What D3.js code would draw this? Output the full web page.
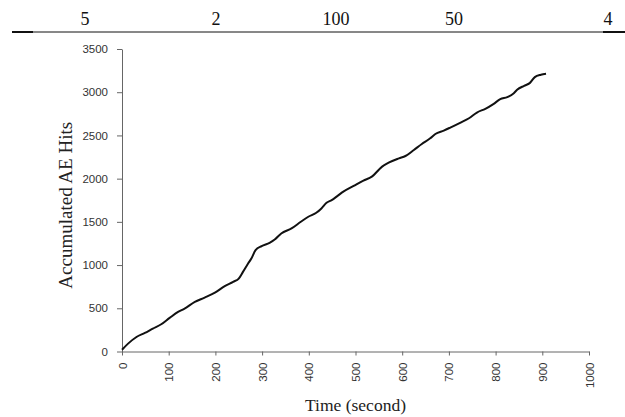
<!DOCTYPE html>
<html>
<head>
<meta charset="utf-8">
<script src="https://cdn.jsdelivr.net/npm/d3@7"></script>
<style>
  body { margin: 0; background: #fff; }
  svg { display: block; }
  .tick text { font-family: "Liberation Sans", Arial, sans-serif; font-size: 11.5px; fill: #333; }
  .axis path, .axis line { stroke: #666; }
</style>
</head>
<body>
<svg id="chart" width="625" height="417"></svg>
<script>
// table row shown above the figure
const headerValues = ["5", "2", "100", "50", "4"];
const headerX = [85, 216, 336, 454, 608];

// Accumulated AE hits over time
const times = [0, 13, 31, 49, 66, 84, 102, 120, 134, 156, 177, 199, 220, 238, 250,
  259, 270, 277, 286, 299, 316, 327, 341, 363, 383, 399, 416, 427, 438, 449, 461,
  474, 496, 517, 535, 557, 571, 593, 607, 625, 642, 660, 671, 689, 703, 725, 743,
  760, 778, 796, 810, 825, 839, 846, 861, 873, 884, 897, 908];
const hits = [20, 91, 168, 215, 265, 315, 389, 458, 497, 574, 624, 682, 756, 806, 844,
  921, 1018, 1076, 1172, 1219, 1258, 1296, 1366, 1424, 1501, 1559, 1605, 1655, 1721, 1752, 1798,
  1849, 1915, 1977, 2023, 2139, 2185, 2235, 2262, 2332, 2401, 2467, 2517, 2556, 2591, 2649, 2699,
  2765, 2808, 2866, 2920, 2943, 2989, 3028, 3074, 3105, 3175, 3202, 3213];

const xTicks = [0, 100, 200, 300, 400, 500, 600, 700, 800, 900, 1000];
const yTicks = [0, 500, 1000, 1500, 2000, 2500, 3000, 3500];

const width = 625;
const height = 417;
const marginTop = 49;
const marginRight = 36;
const marginBottom = 65.5;
const marginLeft = 122;

const svg = d3.select("#chart");

// header row with its rule
svg.selectAll("text.head")
  .data(headerValues)
  .join("text")
  .attr("class", "head")
  .attr("x", (d, i) => headerX[i])
  .attr("y", 25)
  .attr("text-anchor", "middle")
  .style("font-family", "'Liberation Serif', 'Times New Roman', serif")
  .style("font-size", "18px")
  .attr("fill", "#111")
  .text(d => d);

svg.append("line").attr("x1", 12).attr("x2", 625).attr("y1", 32).attr("y2", 32)
  .attr("stroke", "#111").attr("stroke-width", 1);
svg.append("line").attr("x1", 12).attr("x2", 33).attr("y1", 32).attr("y2", 32)
  .attr("stroke", "#111").attr("stroke-width", 2);
svg.append("line").attr("x1", 603).attr("x2", 625).attr("y1", 32).attr("y2", 32)
  .attr("stroke", "#111").attr("stroke-width", 2);

const xScale = d3.scaleLinear()
  .domain([0, 1000])
  .range([marginLeft, width - marginRight]);

const yScale = d3.scaleLinear()
  .domain([0, 3500])
  .range([height - marginBottom, marginTop]);

// y axis
svg.append("g")
  .attr("class", "axis")
  .attr("transform", `translate(${marginLeft},0)`)
  .call(d3.axisLeft(yScale).tickValues(yTicks).tickFormat(d3.format("d"))
    .tickSize(5).tickPadding(9).tickSizeOuter(0));

// x axis
const xAxis = svg.append("g")
  .attr("class", "axis")
  .attr("transform", `translate(0,${height - marginBottom})`)
  .call(d3.axisBottom(xScale).tickValues(xTicks).tickFormat(d3.format("d"))
    .tickSize(4).tickSizeOuter(0));

xAxis.selectAll(".tick text")
  .attr("transform", "rotate(-90)")
  .attr("x", -11)
  .attr("y", 0)
  .attr("dy", "0.35em")
  .attr("text-anchor", "end");

// the curve
const points = times.map((t, i) => ({ time: t, value: hits[i] }));
const line = d3.line()
  .x(p => xScale(p.time))
  .y(p => yScale(p.value))
  .curve(d3.curveMonotoneX);

svg.append("path")
  .datum(points)
  .attr("fill", "none")
  .attr("stroke", "#111")
  .attr("stroke-width", 2)
  .attr("stroke-linejoin", "round")
  .attr("d", line);

// axis titles
svg.append("text")
  .attr("x", (marginLeft + width - marginRight) / 2)
  .attr("y", 411)
  .attr("text-anchor", "middle")
  .style("font-family", "'Liberation Serif', 'Times New Roman', serif")
  .style("font-size", "17.5px")
  .attr("fill", "#222")
  .text("Time (second)");

svg.append("text")
  .attr("transform", `translate(72,${(marginTop + height - marginBottom) / 2 + 5}) rotate(-90)`)
  .attr("text-anchor", "middle")
  .style("font-family", "'Liberation Serif', 'Times New Roman', serif")
  .style("font-size", "19px")
  .attr("fill", "#222")
  .text("Accumulated AE Hits");
</script>
</body>
</html>
